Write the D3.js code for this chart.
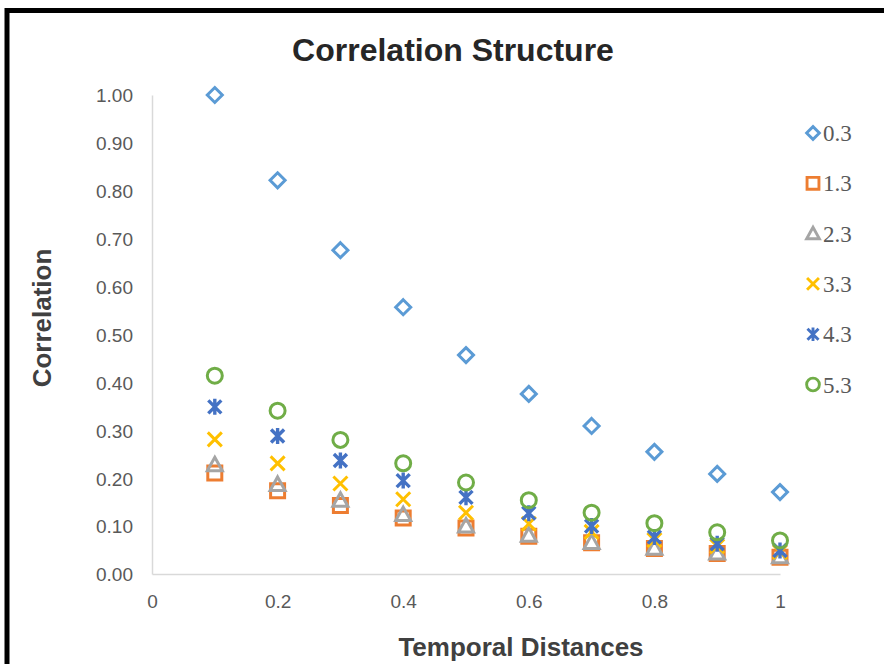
<!DOCTYPE html>
<html>
<head>
<meta charset="utf-8">
<script src="https://cdn.jsdelivr.net/npm/d3@7"></script>
<style>
  html, body { margin: 0; padding: 0; background: #fff; }
  svg { display: block; }
</style>
</head>
<body>
<svg id="chart" width="884" height="664"></svg>
<script>
// ---- data ----
const distances = [0.1, 0.2, 0.3, 0.4, 0.5, 0.6, 0.7, 0.8, 0.9, 1.0];
const seriesNames = ["0.3", "1.3", "2.3", "3.3", "4.3", "5.3"];
const s03 = [1.00, 0.822, 0.676, 0.557, 0.457, 0.376, 0.309, 0.255, 0.209, 0.171];
const s13 = [0.211, 0.174, 0.143, 0.117, 0.096, 0.079, 0.065, 0.053, 0.043, 0.035];
const s23 = [0.228, 0.187, 0.154, 0.124, 0.100, 0.081, 0.066, 0.054, 0.044, 0.036];
const s33 = [0.281, 0.231, 0.189, 0.156, 0.128, 0.105, 0.088, 0.071, 0.058, 0.046];
const s43 = [0.349, 0.288, 0.237, 0.195, 0.160, 0.127, 0.100, 0.077, 0.063, 0.049];
const s53 = [0.414, 0.341, 0.280, 0.231, 0.191, 0.154, 0.128, 0.106, 0.087, 0.070];
const xTicks = [0, 0.2, 0.4, 0.6, 0.8, 1];
const xTickLabels = ["0", "0.2", "0.4", "0.6", "0.8", "1"];
const yTicks = [0, 0.1, 0.2, 0.3, 0.4, 0.5, 0.6, 0.7, 0.8, 0.9, 1.0];
const yTickLabels = ["0.00", "0.10", "0.20", "0.30", "0.40", "0.50", "0.60", "0.70", "0.80", "0.90", "1.00"];
const colors = ["#5B9BD5", "#ED7D31", "#A5A5A5", "#FFC000", "#4472C4", "#70AD47"];
const shapes = ["diamond", "square", "triangle", "x", "star", "circle"];
const seriesValues = [s03, s13, s23, s33, s43, s53];

// ---- layout ----
const svg = d3.select("#chart");
const x = d3.scaleLinear().domain([0, 1]).range([152, 780]);
const y = d3.scaleLinear().domain([0, 1]).range([574, 95]);

// frame (top + left visible)
svg.append("rect").attr("x", 7).attr("y", 10.5).attr("width", 1000).attr("height", 1000)
  .attr("fill", "#fff").attr("stroke", "#000").attr("stroke-width", 5);

function markerPath(shape) {
  switch (shape) {
    case "diamond": return "M0,-7.5L7.5,0L0,7.5L-7.5,0Z";
    case "square": return "M-7,-7H7V7H-7Z";
    case "triangle": return "M0,-7.5L7.5,6L-7.5,6Z";
    case "x": return "M-7,-7L7,7M7,-7L-7,7";
    case "star": return "M-6.5,-6.5L6.5,6.5M6.5,-6.5L-6.5,6.5M0,-8V8";
    case "circle": return "M7.5,0A7.5,7.5 0 1 1 -7.5,0A7.5,7.5 0 1 1 7.5,0Z";
  }
}

// axes
const xAxis = d3.axisBottom(x).tickValues(xTicks).tickFormat((d, i) => xTickLabels[i]).tickSize(0).tickPadding(0);
const yAxis = d3.axisLeft(y).tickValues(yTicks).tickFormat((d, i) => yTickLabels[i]).tickSize(0).tickPadding(0);

const gx = svg.append("g").attr("transform", `translate(0,${y(0)})`).call(xAxis);
gx.select(".domain").attr("stroke", "#d9d9d9").attr("stroke-width", 1.5);
gx.selectAll("text").attr("y", 34).attr("dy", null)
  .attr("font-family", "Liberation Sans, Arial, sans-serif").attr("font-size", 19).attr("fill", "#595959");

const gy = svg.append("g").attr("transform", `translate(${x(0)},0)`).call(yAxis);
gy.select(".domain").attr("stroke", "#d9d9d9").attr("stroke-width", 1.5);
gy.selectAll("text").attr("x", -19).attr("dy", "0.36em")
  .attr("font-family", "Liberation Sans, Arial, sans-serif").attr("font-size", 19).attr("fill", "#595959");

// series
seriesValues.forEach((vals, si) => {
  const g = svg.append("g");
  g.selectAll("path").data(vals).join("path")
    .attr("transform", (d, i) => `translate(${x(distances[i])},${y(d)})`)
    .attr("d", markerPath(shapes[si]))
    .attr("fill", "none")
    .attr("stroke", colors[si])
    .attr("stroke-width", shapes[si] === "star" ? 3.4 : 3);
});

// legend
const legend = svg.append("g");
seriesNames.forEach((name, i) => {
  const ly = 133 + i * 50.3;
  legend.append("path").attr("transform", `translate(813,${ly}) scale(0.85)`)
    .attr("d", markerPath(shapes[i])).attr("fill", "none")
    .attr("stroke", colors[i]).attr("stroke-width", 3.4);
  legend.append("text").attr("x", 823).attr("y", ly + 8)
    .attr("font-family", "Liberation Serif, Times New Roman, serif").attr("font-size", 23)
    .attr("fill", "#595959").text(name);
});

// titles
svg.append("text").attr("x", 453).attr("y", 61).attr("text-anchor", "middle")
  .attr("font-family", "Liberation Sans, Arial, sans-serif").attr("font-weight", "bold")
  .attr("font-size", 32).attr("fill", "#262626").text("Correlation Structure");
svg.append("text").attr("x", 521).attr("y", 656).attr("text-anchor", "middle")
  .attr("font-family", "Liberation Sans, Arial, sans-serif").attr("font-weight", "bold")
  .attr("font-size", 26).attr("fill", "#404040").text("Temporal Distances");
svg.append("text").attr("transform", "translate(51,318) rotate(-90)").attr("text-anchor", "middle")
  .attr("font-family", "Liberation Sans, Arial, sans-serif").attr("font-weight", "bold")
  .attr("font-size", 26).attr("fill", "#404040").text("Correlation");
</script>
</body>
</html>
